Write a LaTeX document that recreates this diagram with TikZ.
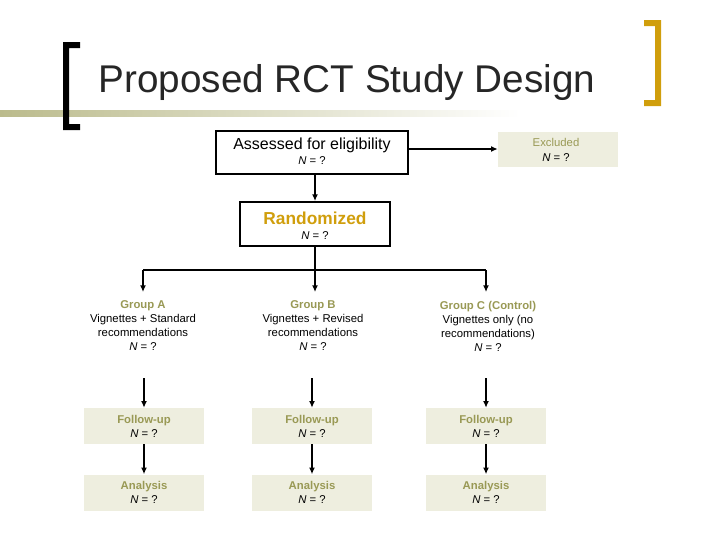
\documentclass[tikz,border=0pt]{standalone}
\usepackage{fontspec}
\setmainfont{Liberation Sans}
\begin{document}
\begin{tikzpicture}[x=0.75pt,y=-0.75pt,
  arr/.style={line width=1.5pt,-{Latex[length=5pt,width=4.5pt]}},
  pale/.style={fill=paleF,draw=none,minimum width=90pt,minimum height=27pt,inner sep=0pt,align=center,font=\fontsize{8.5pt}{10.5pt}\selectfont},
  grp/.style={align=center,font=\fontsize{8.5pt}{10.5pt}\selectfont,inner sep=0pt},
  hd/.style={text=oliveT,font=\fontsize{8.5pt}{10.5pt}\selectfont\bfseries}]
\usetikzlibrary{arrows.meta}
\definecolor{paleF}{HTML}{EEEEDF}
\definecolor{oliveT}{HTML}{999955}
\definecolor{goldB}{HTML}{D09E0C}
\definecolor{barC}{HTML}{BBBB8C}
\useasboundingbox (0,0) rectangle (720,540);
% title
\shade[left color=barC,right color=white] (0,110) rectangle (520,116);
\fill[black] (63,42) rectangle (69,130) (63,42) rectangle (80,48) (63,124) rectangle (80,130);
\fill[goldB] (655,20) rectangle (661,106) (644,20) rectangle (661,26) (644,100) rectangle (661,106);
\node[font=\fontsize{29pt}{33pt}\selectfont,text=black!85] (title) at (347,82) {Proposed RCT Study Design};
% top boxes
\node[draw,line width=1.5pt,minimum width=144pt,minimum height=32pt,inner sep=0pt] (ass) at (312,152.5) {};
\node[font=\fontsize{12pt}{14pt}\selectfont] (asst) at (312,145) {Assessed for eligibility};
\node[font=\fontsize{8.5pt}{10pt}\selectfont] (assn) at (312,161) {\textit{N} = ?};
\node[fill=paleF,minimum width=90pt,minimum height=26pt,inner sep=0pt] (exc) at (558,149.5) {};
\node[font=\fontsize{8.5pt}{10pt}\selectfont,text=oliveT] (exct) at (556,142) {Excluded};
\node[font=\fontsize{8.5pt}{10pt}\selectfont] (excn) at (556,158) {\textit{N} = ?};
\node[draw,line width=1.5pt,minimum width=112pt,minimum height=33pt,inner sep=0pt] (ran) at (315,224) {};
\node[font=\fontsize{13pt}{15pt}\selectfont\bfseries,text=goldB] (rant) at (315,218) {Randomized};
\node[font=\fontsize{8.5pt}{10pt}\selectfont] (rann) at (315,236) {\textit{N} = ?};
\draw[arr] (ass.east |- 0,149) -- (exc.west |- 0,149);
\draw[arr] (ass.south -| ran) -- (ran.north);
\coordinate (sp) at (315,270);
\coordinate (spa) at (143,270);
\coordinate (spc) at (486,270);
\draw[line width=1.5pt] (ran.south) -- (sp) (spa) -- (spc);
% groups
\node[grp] (ga) at (143,326) {{\color{oliveT}\bfseries Group A}\\Vignettes + Standard\\recommendations\\\textit{N} = ?};
\node[grp] (gb) at (313,326) {{\color{oliveT}\bfseries Group B}\\Vignettes + Revised\\recommendations\\\textit{N} = ?};
\node[grp] (gc) at (488,326) {{\color{oliveT}\bfseries Group C (Control)}\\Vignettes only (no\\recommendations)\\\textit{N} = ?};
\coordinate (ta) at (143,292);
\coordinate (tb) at (315,292);
\coordinate (tc) at (486,292);
\draw[arr] (spa) -- (ta);
\draw[arr] (sp) -- (tb);
\draw[arr] (spc) -- (tc);
\foreach \n/\x in {a/144,b/312,c/486}{
  \node[pale] (f\n) at (\x,426) {{\color{oliveT}\bfseries Follow-up}\\\textit{N} = ?};
  \node[pale] (a\n) at (\x,492.5) {{\color{oliveT}\bfseries Analysis}\\\textit{N} = ?};
  \coordinate (s\n) at (\x,378);
  \draw[arr] (s\n) -- (f\n.north);
  \draw[arr] (f\n.south) -- (a\n.north);
}
\end{tikzpicture}
\end{document}
